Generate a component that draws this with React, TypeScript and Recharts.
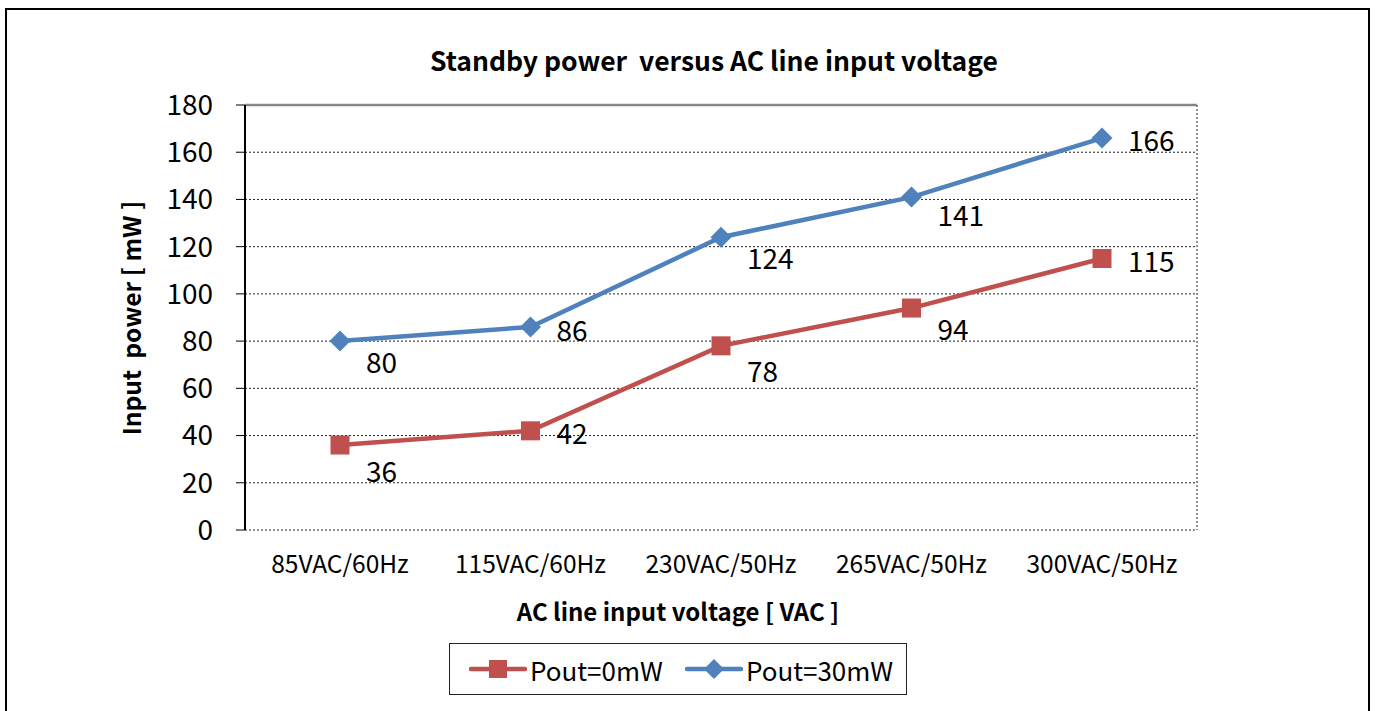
import {
  CartesianGrid,
  LabelList,
  Line,
  LineChart,
  ReferenceLine,
  XAxis,
  YAxis,
} from "recharts";

const categories = ["85VAC/60Hz", "115VAC/60Hz", "230VAC/50Hz", "265VAC/50Hz", "300VAC/50Hz"];
const pout0 = [36, 42, 78, 94, 115];
const pout30 = [80, 86, 124, 141, 166];
const yTicks = [0, 20, 40, 60, 80, 100, 120, 140, 160, 180];
const boundaryTicks = [0, 1, 2, 3, 4, 5];

const RED = "#C0504D";
const BLUE = "#4F81BD";
const FONT = '"Noto Sans CJK JP", "Noto Sans", sans-serif';

// label nudges copied by eye from the original (Excel placed them a bit irregularly)
const p0LabelDy = [25, 1, 24, 20, 2];
const p30LabelDy = [20, 2, 20, 17, 1];

const data = categories.map((cat, i) => ({ cat, p0: pout0[i], p30: pout30[i] }));

function SquareDot(props: any) {
  const { cx, cy } = props;
  if (cx == null || cy == null) return null;
  return <rect x={cx - 9.5} y={cy - 9.5} width={19} height={19} fill={RED} />;
}

function DiamondDot(props: any) {
  const { cx, cy } = props;
  if (cx == null || cy == null) return null;
  const r = 10.5;
  return <polygon points={`${cx},${cy - r} ${cx + r},${cy} ${cx},${cy + r} ${cx - r},${cy}`} fill={BLUE} />;
}

function makeLabel(dys: number[]) {
  return (props: any) => {
    const { x, y, value, index } = props;
    return (
      <text x={x + 26} y={y + dys[index]} dominantBaseline="central" fontSize={28} fontFamily={FONT} fill="#000">
        {value}
      </text>
    );
  };
}

function LegendBox() {
  const item = (label: string, color: string, marker: "square" | "diamond") => (
    <div style={{ display: "flex", alignItems: "center" }}>
      <svg width={58} height={24}>
        <line x1={2} y1={12} x2={56} y2={12} stroke={color} strokeWidth={4.5} strokeLinecap="round" />
        {marker === "square" ? (
          <rect x={20} y={3} width={18} height={18} fill={color} />
        ) : (
          <polygon points="29,2 39,12 29,22 19,12" fill={color} />
        )}
      </svg>
      <span style={{ fontSize: 26, marginLeft: 3 }}>{label}</span>
    </div>
  );
  return (
    <div
      style={{
        position: "absolute",
        left: 449,
        top: 643,
        width: 458,
        height: 52,
        border: "1px solid #222",
        boxSizing: "border-box",
        display: "flex",
        alignItems: "center",
        paddingLeft: 19,
        gap: 22,
      }}
    >
      {item("Pout=0mW", RED, "square")}
      {item("Pout=30mW", BLUE, "diamond")}
    </div>
  );
}

export default function App() {
  return (
    <div
      style={{
        position: "absolute",
        left: 0,
        top: 0,
        width: 1375,
        height: 711,
        overflow: "hidden",
        background: "#fff",
        fontFamily: FONT,
        color: "#000",
      }}
    >
      <div
        style={{
          position: "absolute",
          left: 5,
          top: 8,
          width: 1365,
          height: 740,
          border: "2px solid #000",
          boxSizing: "border-box",
        }}
      />
      <div
        style={{
          position: "absolute",
          left: 214,
          top: 42,
          width: 1000,
          textAlign: "center",
          fontSize: 26.5,
          fontWeight: 700,
          lineHeight: "36px",
        }}
      >
        Standby power&nbsp; versus AC line input voltage
      </div>
      <div style={{ position: "absolute", left: 0, top: 0 }}>
        <LineChart width={1375} height={711} data={data} margin={{ top: 105, right: 178, bottom: 151, left: 185 }}>
          <CartesianGrid xAxisId="grid" stroke="#222" strokeDasharray="2 2" strokeWidth={1} />
          <XAxis
            xAxisId="grid"
            type="number"
            domain={[0, 5]}
            ticks={boundaryTicks}
            tick={false}
            tickSize={8}
            height={0}
            axisLine={{ stroke: "#404040", strokeWidth: 2 }}
            tickLine={{ stroke: "#000", strokeWidth: 1 }}
          />
          <XAxis
            xAxisId="cat"
            dataKey="cat"
            padding={{ left: 95, right: 95 }}
            axisLine={false}
            tickLine={false}
            tickSize={0}
            tickMargin={26}
            height={30}
            interval={0}
            tick={{ fontSize: 24.5, fill: "#000", fontFamily: FONT }}
          />
          <YAxis
            domain={[0, 180]}
            ticks={yTicks}
            interval={0}
            width={60}
            tickSize={9}
            tickMargin={23}
            axisLine={{ stroke: "#000", strokeWidth: 2 }}
            tickLine={{ stroke: "#000", strokeWidth: 1 }}
            tick={{ fontSize: 28, fill: "#000", fontFamily: FONT }}
          />
          <ReferenceLine xAxisId="cat" y={180} stroke="#868686" strokeWidth={2.5} />
          <ReferenceLine xAxisId="grid" x={5} stroke="#868686" strokeWidth={2.5} />
          <Line
            xAxisId="cat"
            dataKey="p30"
            stroke={BLUE}
            strokeWidth={4.5}
            dot={<DiamondDot />}
            activeDot={false}
            isAnimationActive={false}
          >
            <LabelList dataKey="p30" content={makeLabel(p30LabelDy)} />
          </Line>
          <Line
            xAxisId="cat"
            dataKey="p0"
            stroke={RED}
            strokeWidth={4.5}
            dot={<SquareDot />}
            activeDot={false}
            isAnimationActive={false}
          >
            <LabelList dataKey="p0" content={makeLabel(p0LabelDy)} />
          </Line>
        </LineChart>
      </div>
      <div
        style={{
          position: "absolute",
          left: 130,
          top: 318,
          transform: "translate(-50%, -50%) rotate(-90deg)",
          transformOrigin: "center",
          whiteSpace: "nowrap",
          fontSize: 24.5,
          fontWeight: 700,
        }}
      >
        Input&nbsp; power [ mW ]
      </div>
      <div
        style={{
          position: "absolute",
          left: 678,
          top: 610,
          transform: "translate(-50%, -50%)",
          whiteSpace: "nowrap",
          fontSize: 24,
          fontWeight: 700,
        }}
      >
        AC line input voltage [ VAC ]
      </div>
      <LegendBox />
    </div>
  );
}
